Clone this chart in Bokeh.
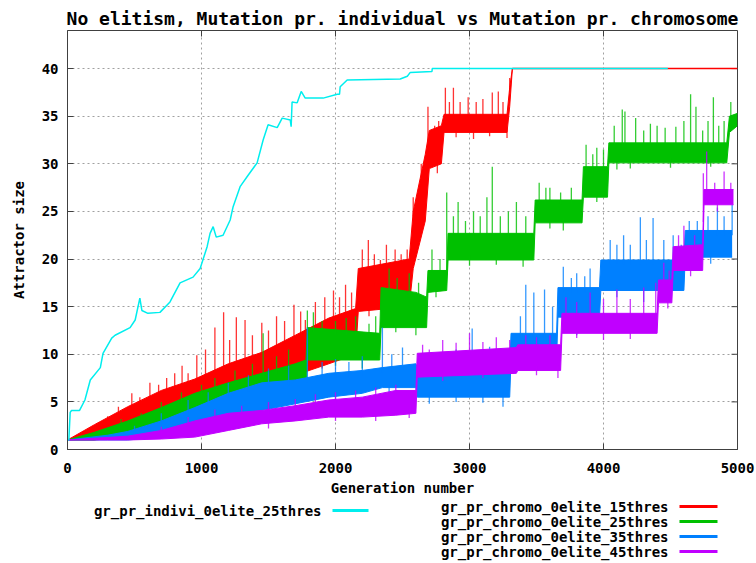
import numpy as np
from bokeh.plotting import figure
from bokeh.layouts import column
from bokeh.models import Range1d
from bokeh.core.properties import value
from bokeh.embed import file_html
from bokeh.resources import INLINE

FONT = "DejaVu Sans Mono"

title_text = "No elitism, Mutation pr. individual vs Mutation pr. chromosome"
x_label = "Generation number"
y_label = "Attractor size"
x_ticks = [0, 1000, 2000, 3000, 4000, 5000]
y_ticks = [0, 5, 10, 15, 20, 25, 30, 35, 40]

names = ["gr_pr_indivi_0elite_25thres", "gr_pr_chromo_0elite_15thres",
         "gr_pr_chromo_0elite_25thres", "gr_pr_chromo_0elite_35thres",
         "gr_pr_chromo_0elite_45thres"]
colors = ["#00eeee", "#ff0000", "#00c000", "#0080ff", "#c000ff"]

# ---- individual mutation, 25 thres (cyan)
cyan_gen = [0, 10, 20, 30, 90, 130, 170, 245, 265, 330, 355, 467, 505, 540, 555, 600, 690,
            765, 840, 937, 990, 1042, 1064, 1087, 1110, 1161, 1214, 1236, 1288, 1348, 1415,
            1460, 1497, 1565, 1602, 1662, 1669, 1676, 1714, 1744, 1774, 1908, 2013, 2030,
            2035, 2087, 2483, 2536, 2558, 2720, 2722, 4480]
cyan_val = [1, 1, 3.9, 4.1, 4.1, 5.2, 7.3, 8.6, 10.1, 11.7, 12.0, 12.8, 13.6, 15.9, 14.6,
            14.3, 14.4, 15.5, 17.5, 18.1, 19.0, 21.3, 22.7, 23.4, 22.3, 22.5, 24.1, 25.5, 27.6,
            28.8, 30.1, 32.5, 34.1, 33.8, 34.8, 34.6, 33.9, 36.5, 36.4, 37.6, 36.9, 36.9, 37.3,
            37.3, 38.1, 38.8, 38.9, 39.2, 39.6, 39.7, 40.0, 40.0]

# ---- chromosome mutation, 15 thres (red): dense band low/high + spikes
red_gen = [0, 200, 450, 700, 950, 1200, 1450, 1700, 1950, 2150, 2170, 2550, 2580, 2670,
           2700, 2790, 2810, 3280, 3300, 3320]
red_lo = [1, 1, 1.7, 3.0, 4.3, 5.5, 6.5, 7.8, 9.0, 10.0, 14.5, 15.0, 19.0, 24.0, 29.5,
          30.0, 33.3, 33.3, 36.0, 40.0]
red_hi = [1, 2.6, 4.5, 6.2, 7.4, 9.0, 10.2, 12.0, 13.8, 14.8, 19.0, 20.0, 25.0, 31.0,
          33.5, 34.0, 35.2, 35.2, 38.0, 40.0]
red_spike_gen = [300, 380, 480, 540, 615, 680, 740, 800, 855, 900, 965, 1030, 1100, 1165,
                 1210, 1260, 1325, 1380, 1450, 1500, 1560, 1620, 1690, 1740, 1775, 1850,
                 1920, 1985, 2030, 2075, 2120, 2200, 2245, 2290, 2335, 2380, 2445, 2490,
                 2535, 2580, 2640, 2690, 2740, 2770, 2820, 2850, 2880, 2930, 2990, 3050,
                 3100, 3170, 3215, 3250, 3300]
red_spike_val = [3.5, 4.5, 5.9, 5.5, 7.0, 6.8, 7.5, 8.0, 8.8, 8.0, 9.9, 10.5, 12.8, 14.4,
                 11.5, 13.9, 13.6, 12.0, 13.3, 12.5, 14.0, 13.5, 15.2, 14.5, 13.6, 15.5,
                 16.0, 16.7, 16.0, 17.3, 16.5, 21.0, 22.0, 20.5, 19.9, 21.5, 21.0, 20.5,
                 21.0, 26.5, 30.0, 36.0, 34.0, 34.5, 38.0, 36.5, 38.0, 36.5, 37.0, 36.5,
                 36.8, 37.5, 37.6, 36.5, 39.0]
red_dip_gen = [600, 900, 1300, 1600, 1900, 2250, 2400, 2760, 2900, 3030, 3150, 3280]
red_dip_val = [2.2, 3.5, 5.0, 6.5, 8.5, 14.0, 14.3, 29.0, 32.8, 32.6, 32.9, 32.7]
red_tail_gen = [3320, 5000]
red_tail_val = [40, 40]

# ---- chromosome mutation, 25 thres (green)
green_gen = [0, 200, 450, 700, 950, 1200, 1450, 1700, 1780, 1790, 2330, 2340, 2600, 2680,
             2690, 2830, 2840, 3480, 3490, 3840, 3850, 4030, 4040, 4920, 4940, 5000]
green_lo = [1, 1, 1.3, 2.3, 3.0, 4.1, 5.2, 5.9, 6.2, 9.4, 9.4, 12.8, 12.8, 12.8, 16.5,
            16.7, 19.9, 19.9, 23.8, 23.8, 26.5, 26.5, 30.1, 30.1, 33.3, 34.0]
green_hi = [1, 1.8, 3.0, 4.4, 5.9, 7.0, 8.0, 9.0, 9.4, 12.8, 12.2, 17.0, 16.5, 16.0, 18.8,
            18.8, 22.7, 22.7, 26.2, 26.2, 29.7, 29.7, 32.2, 32.2, 35.0, 35.3]
green_spike_gen = [400, 550, 700, 850, 1000, 1100, 1250, 1380, 1460, 1560, 1650, 1790, 1835,
                   1900, 2000, 2080, 2150, 2250, 2300, 2400, 2460, 2550, 2620, 2720, 2780,
                   2830, 2880, 2915, 2970, 3030, 3080, 3130, 3170, 3230, 3290, 3350, 3420,
                   3520, 3570, 3600, 3680, 3760, 3870, 3920, 3950, 4000, 4080, 4140, 4160,
                   4240, 4300, 4350, 4400, 4460, 4540, 4600, 4650, 4690, 4740, 4780, 4820,
                   4860, 4900, 4950]
green_spike_val = [3.2, 3.8, 5.0, 6.0, 6.8, 7.5, 8.3, 9.0, 12.2, 9.8, 10.5, 14.6, 14.4,
                   13.5, 13.5, 13.8, 14.0, 13.2, 14.0, 19.0, 18.0, 18.5, 17.5, 21.0, 20.0,
                   27.0, 24.5, 26.0, 24.0, 25.0, 24.5, 26.5, 29.7, 24.5, 25.0, 26.0, 24.5,
                   28.0, 27.5, 27.5, 27.0, 27.5, 32.0, 31.0, 31.7, 31.5, 34.0, 35.7, 35.5,
                   34.8, 33.5, 34.2, 34.0, 33.8, 33.9, 34.5, 37.3, 36.0, 33.5, 34.5, 37.0,
                   34.0, 34.5, 36.5]
green_dip_gen = [900, 1300, 1700, 2000, 2200, 2450, 2600, 2750, 3000, 3200, 3400, 3600,
                 3700, 3950, 4100, 4200, 4500, 4800]
green_dip_val = [2.5, 3.5, 5.0, 8.8, 8.5, 12.3, 12.0, 16.0, 19.3, 19.4, 19.2, 23.2, 23.0,
                 26.0, 29.4, 29.5, 29.6, 29.7]

# ---- chromosome mutation, 35 thres (blue)
blue_gen = [0, 300, 450, 700, 950, 1200, 1450, 1700, 1950, 2200, 2350, 2600, 2610, 3300,
            3310, 3650, 3660, 3970, 3980, 4600, 4610, 4960]
blue_lo = [1, 1, 1.0, 1.3, 2.0, 3.0, 4.1, 4.8, 5.5, 5.9, 6.5, 6.5, 5.5, 5.5, 9.4, 9.4,
           13.9, 13.9, 16.7, 16.7, 20.2, 20.2]
blue_hi = [1, 1.5, 1.9, 3.0, 4.4, 5.9, 7.0, 7.3, 8.0, 8.3, 8.6, 9.0, 8.6, 8.6, 12.2, 12.2,
           17.0, 17.0, 19.9, 19.9, 23.0, 23.0]
blue_spike_gen = [500, 700, 900, 1050, 1200, 1350, 1500, 1650, 1790, 1900, 2000, 2100, 2200,
                  2350, 2420, 2500, 2700, 2800, 2900, 3020, 3080, 3150, 3250, 3380, 3420,
                  3480, 3560, 3620, 3700, 3760, 3800, 3860, 3900, 4050, 4100, 4150, 4200,
                  4275, 4320, 4370, 4450, 4520, 4580, 4640, 4700, 4780, 4850, 4900, 4960]
blue_spike_val = [2.5, 3.8, 5.2, 6.0, 7.0, 7.8, 8.5, 8.8, 12.8, 9.2, 9.5, 9.2, 9.8, 12.8,
                  10.0, 10.7, 9.8, 10.0, 10.5, 12.7, 10.0, 10.8, 10.2, 14.0, 17.3, 16.5,
                  16.8, 15.0, 19.2, 18.0, 18.5, 18.2, 19.0, 22.0, 21.5, 22.5, 21.5, 24.4,
                  22.0, 24.3, 22.0, 22.5, 21.5, 24.0, 24.0, 24.5, 25.4, 24.5, 25.7]
blue_dip_gen = [1500, 2000, 2400, 2700, 2900, 3100, 3250, 3500, 3800, 4100, 4300, 4500, 4800]
blue_dip_val = [3.6, 5.0, 6.0, 4.8, 5.0, 4.9, 4.5, 8.8, 12.0, 16.0, 15.5, 16.0, 19.5]

# ---- chromosome mutation, 45 thres (magenta)
mag_gen = [0, 450, 700, 950, 1200, 1450, 1700, 1950, 2200, 2450, 2600, 2610, 3350, 3360,
           3680, 3690, 4400, 4410, 4510, 4520, 4740, 4750, 4970]
mag_lo = [1, 1, 1.1, 1.3, 2.0, 2.7, 3.0, 3.4, 3.4, 3.6, 3.8, 7.6, 8.0, 8.3, 8.3, 12.2,
          12.2, 15.4, 15.4, 18.8, 18.8, 25.7, 25.7]
mag_hi = [1, 1.4, 2.0, 3.0, 3.8, 4.1, 4.6, 5.2, 5.5, 6.2, 6.2, 10.1, 10.7, 11.0, 11.0,
          14.3, 14.3, 17.8, 17.8, 21.3, 21.5, 27.3, 27.3]
mag_spike_gen = [700, 900, 1100, 1300, 1500, 1700, 1850, 2000, 2150, 2300, 2450, 2650, 2700,
                 2800, 2900, 3000, 3100, 3200, 3300, 3420, 3500, 3600, 3720, 3800, 3900,
                 4000, 4100, 4200, 4300, 4390, 4450, 4490, 4560, 4600, 4680, 4745, 4770,
                 4830, 4900, 4950]
mag_spike_val = [2.4, 3.4, 4.2, 4.6, 5.0, 5.3, 5.8, 6.0, 6.2, 6.5, 6.8, 11.0, 10.5, 11.5,
                 11.2, 12.2, 11.3, 11.8, 11.5, 12.0, 11.8, 12.0, 16.0, 15.5, 16.5, 15.8,
                 16.8, 15.8, 17.0, 17.5, 19.6, 18.8, 22.5, 23.5, 22.5, 29.0, 31.3, 28.0,
                 29.2, 28.0]
mag_dip_gen = [1500, 2000, 2300, 2550, 2800, 3100, 3500, 3660, 3800, 4000, 4200, 4480,
               4650, 4850]
mag_dip_val = [2.2, 3.0, 3.0, 3.3, 7.2, 7.5, 7.8, 7.5, 11.7, 11.5, 11.6, 14.8, 18.2, 25.0]

X_MAX = 5000
Y_MAX = 44
BORDER_L, BORDER_R = 67, 19

p = figure(width=756, height=500, x_range=Range1d(0, X_MAX), y_range=Range1d(0, Y_MAX),
           output_backend="svg", toolbar_location=None,
           min_border_left=BORDER_L, min_border_right=BORDER_R, min_border_top=30,
           min_border_bottom=51)
p.background_fill_color = "white"
p.border_fill_color = "white"
p.outline_line_color = "#404040"
p.outline_line_width = 1

p.title.text = title_text
p.title.align = "center"
p.title.text_font = FONT
p.title.text_font_style = "bold"
p.title.text_font_size = "18px"
p.title.text_color = "black"
p.title.standoff = 4

for ax in (p.xaxis[0], p.yaxis[0]):
    ax.major_tick_in = 6
    ax.major_tick_out = 0
    ax.minor_tick_in = 0
    ax.minor_tick_out = 0
    ax.axis_line_color = "#404040"
    ax.major_tick_line_color = "#404040"
    ax.major_label_text_font = FONT
    ax.major_label_text_font_style = "bold"
    ax.major_label_text_font_size = "14px"
    ax.major_label_text_color = "black"
    ax.axis_label_text_font = FONT
    ax.axis_label_text_font_style = "bold"
    ax.axis_label_text_font_size = "14px"
    ax.axis_label_text_color = "black"
p.xaxis.ticker = x_ticks
p.yaxis.ticker = y_ticks
p.xaxis.axis_label = x_label
p.yaxis.axis_label = y_label
p.xaxis.major_label_standoff = 13
p.xaxis.axis_label_standoff = 4
p.yaxis.major_label_standoff = 9
p.yaxis.axis_label_standoff = 12

p.xgrid.ticker = x_ticks
p.ygrid.ticker = y_ticks
p.grid.grid_line_color = "#a0a0a0"
p.grid.grid_line_dash = "2 3"
p.grid.grid_line_width = 1

# mirrored inward ticks on top and right edges (6 px long)
tick_dy = 6 * Y_MAX / 419.0
tick_dx = 6 * X_MAX / 670.0
xt = np.array(x_ticks, dtype=float)
yt = np.array(y_ticks, dtype=float)
p.segment(x0=xt, y0=np.full(len(xt), Y_MAX), x1=xt, y1=np.full(len(xt), Y_MAX - tick_dy),
          line_color="#404040", line_width=1)
p.segment(x0=np.full(len(yt), X_MAX), y0=yt, x1=np.full(len(yt), X_MAX - tick_dx), y1=yt,
          line_color="#404040", line_width=1)


def band(gen, lo, hi, sg, sv, dg, dv, color):
    p.varea(x=gen, y1=lo, y2=hi, fill_color=color, fill_alpha=1.0)
    p.line(gen, hi, line_color=color, line_width=1)
    p.line(gen, lo, line_color=color, line_width=1)
    base_up = np.interp(sg, gen, hi) - 0.5
    p.segment(x0=sg, y0=base_up, x1=sg, y1=sv, line_color=color, line_width=1.3, line_alpha=0.8)
    base_dn = np.interp(dg, gen, lo) + 0.5
    p.segment(x0=dg, y0=base_dn, x1=dg, y1=dv, line_color=color, line_width=1.3, line_alpha=0.8)


band(red_gen, red_lo, red_hi, red_spike_gen, red_spike_val, red_dip_gen, red_dip_val, colors[1])
p.line(red_tail_gen, red_tail_val, line_color=colors[1], line_width=1.5)
band(green_gen, green_lo, green_hi, green_spike_gen, green_spike_val, green_dip_gen, green_dip_val, colors[2])
band(blue_gen, blue_lo, blue_hi, blue_spike_gen, blue_spike_val, blue_dip_gen, blue_dip_val, colors[3])
band(mag_gen, mag_lo, mag_hi, mag_spike_gen, mag_spike_val, mag_dip_gen, mag_dip_val, colors[4])
p.line(cyan_gen, cyan_val, line_color=colors[0], line_width=1.5)

# ---- key below the plot: text to the left of its sample line.
# The column aligns this panel's frame with the main frame, so its x range is
# expressed in page pixels between the two frame edges.
LEG_H = 63
leg = figure(width=756, height=LEG_H, x_range=Range1d(BORDER_L, 756 - BORDER_R),
             y_range=Range1d(LEG_H, 0),
             output_backend="svg", toolbar_location=None, x_axis_location=None,
             y_axis_location=None, min_border=0, min_border_left=BORDER_L,
             min_border_right=BORDER_R)
leg.grid.visible = False
leg.outline_line_color = None
leg.background_fill_color = "white"
leg.border_fill_color = "white"

leg_text_x = [321, 668, 668, 668, 668]
leg_row_y = [10, 6, 21, 36, 51]
leg_line_x0 = [332, 679, 679, 679, 679]
leg_line_x1 = [368, 717, 717, 717, 717]
leg.text(x=leg_text_x, y=leg_row_y, text=names, text_align="right", text_baseline="middle",
         text_font=value(FONT), text_font_style="bold", text_font_size="14px",
         text_color="black")
leg.segment(x0=leg_line_x0, y0=leg_row_y, x1=leg_line_x1, y1=leg_row_y,
            line_color=colors, line_width=3)

layout = column(p, leg, spacing=0)
open("out.html", "w").write(file_html(layout, INLINE))
